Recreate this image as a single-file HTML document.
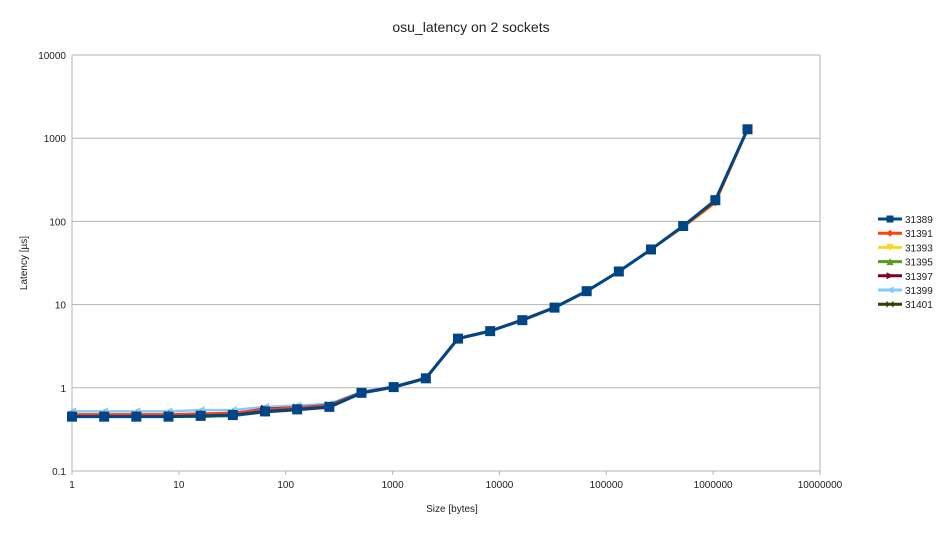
<!DOCTYPE html>
<html><head><meta charset="utf-8"><style>
body{margin:0;background:#fff;font-family:"Liberation Sans",sans-serif}
svg text{font-family:"Liberation Sans",sans-serif}
</style></head><body>
<svg id="chart" width="942" height="531">
<text x="471" y="32" text-anchor="middle" font-size="14" fill="#222">osu_latency on 2 sockets</text>
<g id="grid"></g>
<g id="axes"></g>
<g id="series"></g>
<g id="legend"></g>
<text x="452" y="512" text-anchor="middle" font-size="10" fill="#222">Size [bytes]</text>
<text transform="translate(27,263) rotate(-90)" text-anchor="middle" font-size="10" fill="#222">Latency [µs]</text>
</svg>
<script>
const sizes=[1,2,4,8,16,32,64,128,256,512,1024,2048,4096,8192,16384,32768,65536,131072,262144,524288,1048576,2097152];
const seriesNames=["31389","31391","31393","31395","31397","31399","31401"];
const s31389=[0.45,0.45,0.45,0.45,0.46,0.47,0.52,0.55,0.59,0.87,1.02,1.3,3.9,4.8,6.5,9.2,14.5,25,46,88,180,1280];
const s31391=[0.48,0.48,0.48,0.48,0.49,0.5,0.55,0.58,0.61,0.88,1.03,1.31,3.95,4.85,6.6,9.3,14.6,25,46,86,170,1270];
const s31393=[0.46,0.46,0.46,0.46,0.47,0.48,0.53,0.56,0.6,0.87,1.02,1.3,3.9,4.8,6.5,9.2,14.5,25,46,85,165,1260];
const s31395=[0.45,0.45,0.45,0.45,0.45,0.46,0.52,0.55,0.59,0.86,1.02,1.3,3.9,4.8,6.5,9.2,14.5,25,46,87,175,1270];
const s31397=[0.47,0.47,0.47,0.47,0.48,0.49,0.56,0.58,0.62,0.88,1.03,1.31,3.9,4.8,6.5,9.2,14.5,25,46,88,178,1275];
const s31399=[0.52,0.52,0.52,0.52,0.54,0.54,0.59,0.61,0.64,0.9,1.04,1.32,3.95,4.85,6.6,9.3,14.6,25,46,88,178,1280];
const s31401=[0.45,0.45,0.45,0.45,0.45,0.46,0.51,0.54,0.58,0.86,1.01,1.29,3.9,4.8,6.5,9.2,14.5,25,46,88,180,1280];
const seriesData=[s31389,s31391,s31393,s31395,s31397,s31399,s31401];
const xTicks=[1,10,100,1000,10000,100000,1000000,10000000];
const xTickLabels=["1","10","100","1000","10000","100000","1000000","10000000"];
const yTicks=[0.1,1,10,100,1000,10000];
const yTickLabels=["0.1","1","10","100","1000","10000"];
const colors=["#004586","#ff420e","#ffd320","#579d1c","#7e0021","#83caff","#314004"];
const markers=["square","diamond","down","up","right","left","bowtie"];
const X0=72,X1=820,Y0=471,Y1=55;
const sx=v=>X0+(Math.log10(v)-0)/7*(X1-X0);
const sy=v=>Y0-(Math.log10(v)+1)/5*(Y0-Y1);
const NS="http://www.w3.org/2000/svg";
function mk(t,a,p){const e=document.createElementNS(NS,t);for(const k in a)e.setAttribute(k,a[k]);p.appendChild(e);return e;}
const grid=document.getElementById('grid'),axes=document.getElementById('axes');
yTicks.forEach((t,i)=>{const y=sy(t);
 const l=mk('line',{x1:X0,x2:X1,y1:y,y2:y,stroke:'#b3b3b3','stroke-width':1},grid);
 
 const tx=mk('text',{x:X0-6,y:y+4,'text-anchor':'end','font-size':10,fill:'#222'},axes);tx.textContent=yTickLabels[i];
 });
xTicks.forEach((t,i)=>{const x=sx(t);
 const l=mk('line',{x1:x,x2:x,y1:Y0,y2:Y0+4,stroke:'#b3b3b3'},axes);
 
 const tx=mk('text',{x:x,y:Y0+17,'text-anchor':'middle','font-size':10,fill:'#222'},axes);tx.textContent=xTickLabels[i];
 });
const fr=mk('line',{x1:X0,x2:X0,y1:Y1,y2:Y0,stroke:'#b3b3b3'},axes);
const fr2=mk('line',{x1:X1,x2:X1,y1:Y1,y2:Y0,stroke:'#b3b3b3'},axes);
function marker(type,x,y,c,p,s){s=s||4;let pts;
 if(type==='square')return mk('rect',{x:x-s,y:y-s,width:2*s,height:2*s,fill:c},p);
 if(type==='diamond')pts=[[x,y-s],[x+s,y],[x,y+s],[x-s,y]];
 if(type==='down')pts=[[x-s,y-s],[x+s,y-s],[x,y+s]];
 if(type==='up')pts=[[x-s,y+s],[x+s,y+s],[x,y-s]];
 if(type==='right')pts=[[x-s,y-s],[x-s,y+s],[x+s,y]];
 if(type==='left')pts=[[x+s,y-s],[x+s,y+s],[x-s,y]];
 if(type==='bowtie')pts=[[x-s,y-s],[x-s,y+s],[x,y],[x+s,y-s],[x+s,y+s],[x,y]];
 return mk('polygon',{points:pts.map(q=>q.join(',')).join(' '),fill:c},p);}
const sg=document.getElementById('series');
for(let k=seriesData.length-1;k>=0;k--){
 const g=mk('g',{},sg);
 const d=seriesData[k].map((v,i)=>(i?'L':'M')+sx(sizes[i])+','+sy(v)).join('');
 mk('path',{d:d,fill:'none',stroke:colors[k],'stroke-width':k===0?3:2.5,'stroke-linejoin':'round'},g);
 seriesData[k].forEach((v,i)=>{const m=marker(markers[k],sx(sizes[i]),sy(v),colors[k],g,k===0?5:4);
  });}
const lg=document.getElementById('legend');
seriesNames.forEach((n,k)=>{const y=219+k*14.2;
 const g=mk('g',{},lg);
 mk('line',{x1:878,x2:902,y1:y,y2:y,stroke:colors[k],'stroke-width':3},g);
 marker(markers[k],890,y,colors[k],g,3.5);
 const t=mk('text',{x:905,y:y+4,'font-size':10,fill:'#222'},g);t.textContent=n;});
</script>
</body></html>
